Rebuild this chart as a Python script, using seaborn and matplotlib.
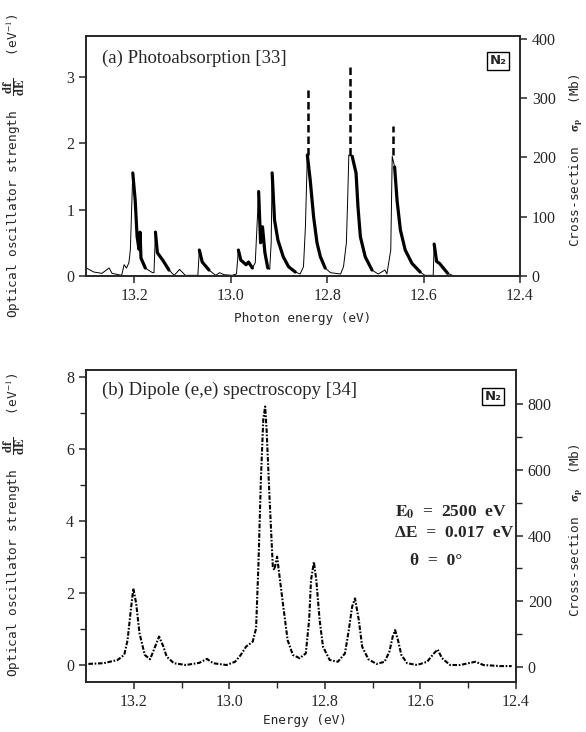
import matplotlib
matplotlib.use("Agg")
import matplotlib.pyplot as plt
import pandas as pd
import seaborn as sns

# ---------------- data: (a) photoabsorption ----------------
energy_a = [13.299, 13.284, 13.267, 13.252, 13.246, 13.226, 13.221, 13.216, 13.211, 13.208,
            13.203, 13.198, 13.194, 13.190, 13.188, 13.186, 13.177, 13.171, 13.162, 13.159,
            13.156, 13.152, 13.141, 13.128, 13.117, 13.106, 13.094, 13.068, 13.065, 13.059,
            13.045, 13.031, 13.023, 13.014, 12.997, 12.988, 12.984, 12.979, 12.968, 12.963,
            12.955, 12.949, 12.942, 12.938, 12.934, 12.929, 12.923, 12.919, 12.916, 12.914,
            12.909, 12.902, 12.891, 12.880, 12.866, 12.856, 12.849, 12.845, 12.841, 12.835,
            12.828, 12.821, 12.814, 12.804, 12.793, 12.772, 12.766, 12.760, 12.757, 12.755,
            12.748, 12.740, 12.736, 12.731, 12.721, 12.707, 12.694, 12.680, 12.676, 12.668,
            12.665, 12.660, 12.655, 12.648, 12.638, 12.624, 12.607, 12.597, 12.580, 12.578,
            12.573, 12.567, 12.550, 12.537]
osc_a = [0.12, 0.06, 0.04, 0.12, 0.04, 0.01, 0.17, 0.12, 0.20, 0.40,
         1.55, 1.14, 0.59, 0.40, 0.66, 0.27, 0.12, 0.09, 0.05, 0.05,
         0.66, 0.35, 0.24, 0.09, 0.01, 0.10, 0.01, 0.01, 0.39, 0.21,
         0.09, 0.01, 0.05, 0.02, 0.01, 0.03, 0.39, 0.24, 0.17, 0.21,
         0.12, 0.20, 1.27, 0.50, 0.74, 0.35, 0.12, 0.10, 0.50, 1.55,
         0.84, 0.54, 0.29, 0.14, 0.06, 0.03, 0.14, 0.74, 1.82, 1.44,
         0.89, 0.50, 0.29, 0.12, 0.05, 0.03, 0.14, 0.50, 1.25, 1.82,
         1.80, 1.55, 1.04, 0.59, 0.29, 0.09, 0.03, 0.09, 0.03, 0.39,
         1.80, 1.64, 1.14, 0.69, 0.39, 0.19, 0.06, 0.01, 0.01, 0.48,
         0.22, 0.19, 0.04, 0.00]
# extrapolated (dashed) tops of the saturated lines
peak_energy_a = [12.840, 12.752, 12.664]
peak_base_a = [1.82, 1.82, 1.82]
peak_top_a = [2.84, 3.15, 2.26]
# energy ranges with densely sampled (heavy) tails
tails_a = [(13.203, 13.177), (13.156, 13.128), (13.065, 13.045), (12.984, 12.955),
           (12.942, 12.923), (12.914, 12.866), (12.841, 12.804), (12.748, 12.707),
           (12.660, 12.607), (12.578, 12.550)]

# ---------------- data: (b) dipole (e,e) ----------------
energy_b = [13.295, 13.263, 13.234, 13.220, 13.213, 13.207, 13.201, 13.195, 13.188, 13.177,
            13.166, 13.158, 13.147, 13.138, 13.131, 13.116, 13.091, 13.063, 13.047, 13.034,
            13.006, 12.988, 12.976, 12.965, 12.951, 12.944, 12.939, 12.934, 12.929, 12.925,
            12.922, 12.916, 12.909, 12.906, 12.900, 12.894, 12.887, 12.878, 12.867, 12.853,
            12.840, 12.833, 12.829, 12.823, 12.818, 12.811, 12.804, 12.790, 12.773, 12.758,
            12.750, 12.743, 12.737, 12.729, 12.722, 12.709, 12.692, 12.675, 12.665, 12.658,
            12.653, 12.647, 12.640, 12.628, 12.607, 12.586, 12.572, 12.564, 12.555, 12.538,
            12.517, 12.496, 12.485, 12.468, 12.433, 12.409]
osc_b = [0.03, 0.05, 0.14, 0.28, 0.69, 1.43, 2.13, 1.71, 0.88, 0.28,
         0.16, 0.42, 0.79, 0.51, 0.23, 0.05, 0.00, 0.06, 0.17, 0.05,
         0.00, 0.09, 0.28, 0.51, 0.65, 1.02, 2.82, 5.14, 6.81, 7.18,
         6.53, 4.68, 2.73, 2.64, 3.01, 2.36, 1.62, 0.69, 0.28, 0.19,
         0.32, 1.25, 2.36, 2.86, 2.36, 1.25, 0.51, 0.14, 0.09, 0.32,
         0.97, 1.62, 1.85, 1.25, 0.51, 0.16, 0.03, 0.09, 0.37, 0.79,
         0.97, 0.69, 0.28, 0.05, 0.00, 0.09, 0.32, 0.43, 0.19, 0.00,
         0.00, 0.06, 0.09, 0.00, -0.03, -0.03]

x_ticks = [13.2, 13.0, 12.8, 12.6, 12.4]
x_minor_b = [13.1, 12.9, 12.7, 12.5]
y_ticks_a = [0, 1, 2, 3]
y2_ticks_a = [0, 100, 200, 300, 400]
y_ticks_b = [0, 2, 4, 6, 8]
y_minor_b = [1, 3, 5, 7]
y2_ticks_b = [0, 200, 400, 600, 800]
y2_minor_b = [100, 300, 500, 700]

# ---------------- style ----------------
sns.set_style("ticks")
plt.rcParams['font.family'] = ['Liberation Serif', 'DejaVu Serif']
plt.rcParams['mathtext.fontset'] = 'stix'
plt.rcParams['axes.linewidth'] = 1.2
plt.rcParams['xtick.major.width'] = 1.1
plt.rcParams['ytick.major.width'] = 1.1
plt.rcParams['xtick.minor.width'] = 1.0
plt.rcParams['ytick.minor.width'] = 1.0
plt.rcParams['xtick.major.size'] = 5
plt.rcParams['ytick.major.size'] = 5
plt.rcParams['xtick.minor.size'] = 4
plt.rcParams['ytick.minor.size'] = 4

TICK_FS = 11.5
LABEL_KW = dict(family=['DejaVu Sans Mono', 'DejaVu Sans'], fontsize=9.2)
YLAB = r"Optical oscillator strength  $\mathbf{\dfrac{df}{dE}}$   (eV$^{-1}$)"
Y2LAB = r"Cross-section  $\mathbf{\sigma_p}$  (Mb)"

fig = plt.figure(figsize=(5.86, 7.32), dpi=100)
W, H = 586.0, 732.0
ax_a = fig.add_axes([86 / W, 1 - 276 / H, 434 / W, 240 / H])
ax_b = fig.add_axes([86 / W, 1 - 682 / H, 430 / W, 312 / H])

df_a = pd.DataFrame({"E": energy_a, "osc": osc_a})
df_b = pd.DataFrame({"E": energy_b, "osc": osc_b})

# ---- panel (a) ----
sns.lineplot(data=df_a, x="E", y="osc", ax=ax_a, color="black", lw=0.7,
             sort=False, estimator=None)
for hi, lo in tails_a:
    sub = df_a[(df_a.E <= hi) & (df_a.E >= lo)]
    sns.lineplot(data=sub, x="E", y="osc", ax=ax_a, color="black", lw=2.3,
                 sort=False, estimator=None)
ax_a.vlines(peak_energy_a, peak_base_a, peak_top_a, colors="black", lw=1.8,
            linestyles=(0, (3.0, 1.6)))

ax_a.set_xlim(13.3, 12.4)
ax_a.set_ylim(0, 3.61)
ax_a.set_xticks(x_ticks)
ax_a.set_xticklabels([f"{t:.1f}" for t in x_ticks], fontsize=TICK_FS)
ax_a.set_yticks(y_ticks_a)
ax_a.set_yticklabels([str(t) for t in y_ticks_a], fontsize=TICK_FS)
ax_a.set_xlabel("Photon energy (eV)", **LABEL_KW)
ax_a.xaxis.set_label_coords(0.498, -0.15)
ax_a.set_ylabel(YLAB, **LABEL_KW)
ax_a.yaxis.set_label_coords(-0.136, 0.46)

ax_a2 = ax_a.twinx()
ax_a2.set_ylim(0, 405)
ax_a2.set_yticks(y2_ticks_a)
ax_a2.set_yticklabels([str(t) for t in y2_ticks_a], fontsize=TICK_FS)
ax_a2.set_ylabel(Y2LAB, rotation=90, **LABEL_KW)
ax_a2.yaxis.set_label_coords(1.108, 0.483)
for a in (ax_a, ax_a2):
    for s in a.spines.values():
        s.set_visible(True)
        s.set_linewidth(1.2)

ax_a.text(0.037, 0.8875, "(a) Photoabsorption [33]", transform=ax_a.transAxes,
          fontsize=13.5, va="baseline", ha="left")
ax_a.text(0.950, 0.896, "N₂", transform=ax_a.transAxes, family=['DejaVu Sans'],
          fontsize=9.5, fontweight="bold", ha="center", va="center",
          bbox=dict(boxstyle="square,pad=0.18", fc="white", ec="black", lw=1.0))

# ---- panel (b) ----
sns.lineplot(data=df_b, x="E", y="osc", ax=ax_b, color="black", lw=1.5,
             sort=False, estimator=None, linestyle=(0, (2.2, 0.8, 0.8, 0.8)))
ax_b.set_xlim(13.3, 12.4)
ax_b.set_ylim(-0.472, 8.194)
ax_b.set_xticks(x_ticks)
ax_b.set_xticks(x_minor_b, minor=True)
ax_b.set_xticklabels([f"{t:.1f}" for t in x_ticks], fontsize=TICK_FS)
ax_b.set_yticks(y_ticks_b)
ax_b.set_yticks(y_minor_b, minor=True)
ax_b.set_yticklabels([str(t) for t in y_ticks_b], fontsize=TICK_FS)
ax_b.set_xlabel("Energy (eV)", **LABEL_KW)
ax_b.xaxis.set_label_coords(0.51, -0.103)
ax_b.set_ylabel(YLAB, **LABEL_KW)
ax_b.yaxis.set_label_coords(-0.137, 0.503)

ax_b2 = ax_b.twinx()
ax_b2.set_ylim(-45, 903)
ax_b2.set_yticks(y2_ticks_b)
ax_b2.set_yticks(y2_minor_b, minor=True)
ax_b2.set_yticklabels([str(t) for t in y2_ticks_b], fontsize=TICK_FS)
ax_b2.set_ylabel(Y2LAB, rotation=90, **LABEL_KW)
ax_b2.yaxis.set_label_coords(1.119, 0.487)
for a in (ax_b, ax_b2):
    for s in a.spines.values():
        s.set_visible(True)
        s.set_linewidth(1.2)

ax_b.text(0.037, 0.92, "(b) Dipole (e,e) spectroscopy [34]", transform=ax_b.transAxes,
          fontsize=13.5, va="baseline", ha="left")
ax_b.text(0.9465, 0.915, "N₂", transform=ax_b.transAxes, family=['DejaVu Sans'],
          fontsize=9.5, fontweight="bold", ha="center", va="center",
          bbox=dict(boxstyle="square,pad=0.18", fc="white", ec="black", lw=1.0))
ax_b.text(0.7186, 0.545, r"$\mathbf{E_0}$  =  2500  eV", transform=ax_b.transAxes,
          fontsize=12.5, fontweight="bold", ha="left", va="center")
ax_b.text(0.7186, 0.478, "ΔE  =  0.017  eV", transform=ax_b.transAxes,
          fontsize=12.5, fontweight="bold", ha="left", va="center")
ax_b.text(0.753, 0.388, "θ  =  0°", transform=ax_b.transAxes,
          fontsize=12.5, fontweight="bold", ha="left", va="center")

fig.savefig("out.png", dpi=100)
